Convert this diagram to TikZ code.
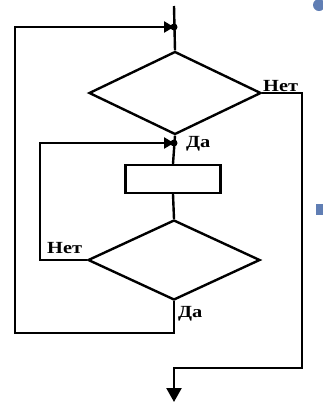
\documentclass[tikz,border=0pt]{standalone}
\usepackage{fontspec}
\setmainfont{Liberation Serif}
\usetikzlibrary{shapes.geometric,arrows.meta}
\definecolor{bulletblue}{RGB}{96,126,180}
\tikzset{
  flow/.style={line width=2.4pt,line join=miter},
  cond/.style={diamond,draw,line width=2.4pt,inner sep=0pt,minimum width=172pt},
  box/.style={rectangle,draw,line width=2.4pt,inner sep=0pt,minimum width=95pt,minimum height=28pt},
  lbl/.style={font=\fontsize{17}{17}\selectfont\bfseries,inner sep=0pt},
  merge/.style={-{Triangle[length=10pt,width=11pt]}},
  joint/.style={circle,fill,inner sep=0pt,minimum size=7pt}
}
\newcommand{\wide}[1]{\scalebox{1.2}[1]{#1}}
\begin{document}
\begin{tikzpicture}[x=1pt,y=-1pt]
\useasboundingbox (0,0) rectangle (323,405);
% blue slide bullets
\fill[bulletblue] (319,5) circle (6);
\fill[bulletblue] (316,204) rectangle (325,215);
% blocks
\node[cond,minimum height=83pt] (cond1) at (175,93) {};
\node[box] (body) at (173,179) {};
\node[cond,minimum height=80pt] (cond2) at (174,260) {};
\coordinate (start) at (174,6);
\coordinate (j1) at (174,27);
\coordinate (j2) at (174,143);
\coordinate (stop) at (174,402);
\node[joint] at (j1) {};
\node[joint] at (j2) {};
% main line
\draw[flow] (start) -- (cond1.north);
\draw[flow] (cond1.south) -- (body.north);
\draw[flow] (body.south) -- (cond2.north);
% outer loop
\draw[flow,merge] (cond2.south) -- (cond2.south |- 0,333) -- (15,333) -- (15,27) -- (j1);
% inner loop
\draw[flow,merge] (cond2.west) -- (40,260) -- (40,143) -- (j2);
% exit
\draw[flow,-{Triangle[length=14pt,width=15pt]}] (cond1.east) -- (302,93) -- (302,368) -- (stop |- 0,368) -- (stop);
% labels
\node[lbl,anchor=south west] (no1) at (263,92) {\wide{Нет}};
\node[lbl,anchor=west] (yes1) at (186,144) {\wide{Да}};
\node[lbl,anchor=south west] (no2) at (47,254) {\wide{Нет}};
\node[lbl,anchor=west] (yes2) at (178,314) {\wide{Да}};
\end{tikzpicture}
\end{document}
